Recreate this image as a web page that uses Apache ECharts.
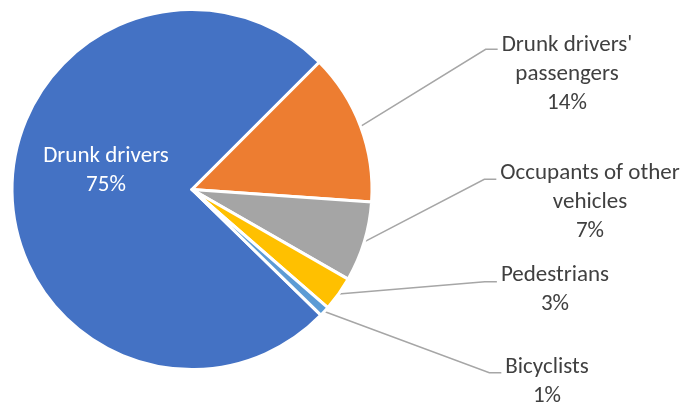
<!DOCTYPE html>
<html><head><meta charset="utf-8">
<script src="https://cdn.jsdelivr.net/npm/echarts@6/dist/echarts.min.js"></script>
<style>html,body{margin:0;padding:0;background:#fff}#c{width:685px;height:405px}</style>
</head><body><div id="c"></div>
<script>
const categories = ["Drunk drivers", "Drunk drivers'\npassengers", "Occupants of other\nvehicles", "Pedestrians", "Bicyclists"];
const values = [75.2, 13.6, 7.2, 3.1, 0.9];
const colors = ['#4472C4', '#ED7D31', '#A5A5A5', '#FFC000', '#5B9BD5'];

const total = values.reduce((a, b) => a + b, 0);
// label placement: centre x, top y (inside: middle y), leader end y
const labelPos = [
  { x: 106, y: 171, inside: true },
  { x: 567, y: 30.5, ly: 49.3 },
  { x: 590, y: 158.5, ly: 179.3 },
  { x: 555, y: 260.5, ly: 281.7 },
  { x: 547, y: 352.5, ly: 372.7 }
];

const FONT = 'Carlito, Lato, sans-serif';
const chart = echarts.init(document.getElementById('c'), null, { renderer: 'canvas' });
chart.setOption({
  animation: false,
  series: [{
    type: 'pie',
    center: [192, 189.5],
    radius: [0, 180],
    startAngle: 45 + 360 * values[0] / total,
    clockwise: true,
    avoidLabelOverlap: false,
    percentPrecision: 0,
    emphasis: { disabled: true },
    itemStyle: { borderColor: '#fff', borderWidth: 3 },
    label: {
      show: true, position: 'outside', formatter: '{b}\n{d}%',
      color: '#404040', fontSize: 23, lineHeight: 29, fontFamily: FONT
    },
    labelLine: { show: true, length: 20, length2: 10, lineStyle: { color: '#A6A6A6', width: 1.5 } },
    labelLayout: function (p) {
      const L = labelPos[p.dataIndex];
      if (L.inside) return { x: L.x, y: L.y, align: 'center', verticalAlign: 'middle' };
      const left = L.x - p.labelRect.width / 2;
      const res = { x: L.x, y: L.y, align: 'center', verticalAlign: 'top' };
      if (p.labelLinePoints) {
        res.labelLinePoints = [p.labelLinePoints[0], [left - 16, L.ly], [left - 4, L.ly]];
      }
      return res;
    },
    data: categories.map((name, i) => ({
      name: name,
      value: values[i],
      itemStyle: { color: colors[i] },
      label: i === 0 ? { position: 'inside', color: '#fff' } : undefined,
      labelLine: i === 0 ? { show: false } : undefined
    }))
  }]
});
</script>
</body></html>
